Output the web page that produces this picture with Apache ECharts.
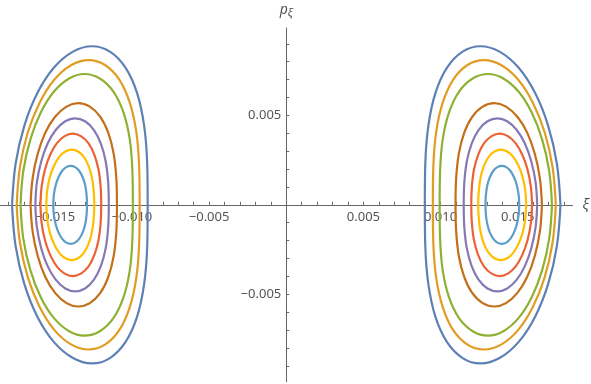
<!DOCTYPE html>
<html>
<head>
<meta charset="utf-8">
<script src="https://cdn.jsdelivr.net/npm/echarts/dist/echarts.min.js"></script>
<style>
html,body{margin:0;padding:0;background:#fff;}
#chart{width:591px;height:384px;}
</style>
</head>
<body>
<div id="chart"></div>
<script>
// Tick positions and labels
const xTickValues = [-0.018,-0.017,-0.016,-0.015,-0.014,-0.013,-0.012,-0.011,-0.010,-0.009,-0.008,-0.007,-0.006,-0.005,-0.004,-0.003,-0.002,-0.001,
  0.001,0.002,0.003,0.004,0.005,0.006,0.007,0.008,0.009,0.010,0.011,0.012,0.013,0.014,0.015,0.016,0.017,0.018];
const xLabelValues = [-0.015,-0.010,-0.005,0.005,0.010,0.015];
const yTickValues = [-0.009,-0.008,-0.007,-0.006,-0.005,-0.004,-0.003,-0.002,-0.001,
  0.001,0.002,0.003,0.004,0.005,0.006,0.007,0.008,0.009];
const yLabelValues = [-0.005,0.005];

// p_xi values around each closed curve (shared by the left and right copy)
const pBlue = [0,-0.00229,-0.00443,-0.00626,-0.00767,-0.00856,-0.00886,-0.00856,-0.00767,-0.00626,-0.00443,-0.00229,0,0.00229,0.00443,0.00626,0.00767,0.00856,0.00886,0.00856,0.00767,0.00626,0.00443,0.00229,0];
const pOrange = [0,-0.00209,-0.00404,-0.00571,-0.00700,-0.00781,-0.00808,-0.00781,-0.00700,-0.00571,-0.00404,-0.00209,0,0.00209,0.00404,0.00571,0.00700,0.00781,0.00808,0.00781,0.00700,0.00571,0.00404,0.00209,0];
const pGreen = [0,-0.00189,-0.00366,-0.00517,-0.00633,-0.00706,-0.00731,-0.00706,-0.00633,-0.00517,-0.00366,-0.00189,0,0.00189,0.00366,0.00517,0.00633,0.00706,0.00731,0.00706,0.00633,0.00517,0.00366,0.00189,0];
const pRed = [0,-0.00103,-0.00199,-0.00281,-0.00345,-0.00384,-0.00398,-0.00384,-0.00345,-0.00281,-0.00199,-0.00103,0,0.00103,0.00199,0.00281,0.00345,0.00384,0.00398,0.00384,0.00345,0.00281,0.00199,0.00103,0];
const pPurple = [0,-0.00125,-0.00242,-0.00341,-0.00418,-0.00467,-0.00483,-0.00467,-0.00418,-0.00341,-0.00242,-0.00125,0,0.00125,0.00242,0.00341,0.00418,0.00467,0.00483,0.00467,0.00418,0.00341,0.00242,0.00125,0];
const pBrown = [0,-0.00147,-0.00284,-0.00402,-0.00492,-0.00549,-0.00568,-0.00549,-0.00492,-0.00402,-0.00284,-0.00147,0,0.00147,0.00284,0.00402,0.00492,0.00549,0.00568,0.00549,0.00492,0.00402,0.00284,0.00147,0];
const pLightBlue = [0,-0.00056,-0.00109,-0.00154,-0.00189,-0.00211,-0.00218,-0.00211,-0.00189,-0.00154,-0.00109,-0.00056,0,0.00056,0.00109,0.00154,0.00189,0.00211,0.00218,0.00211,0.00189,0.00154,0.00109,0.00056,0];
const pYellow = [0,-0.00080,-0.00155,-0.00218,-0.00268,-0.00298,-0.00309,-0.00298,-0.00268,-0.00218,-0.00155,-0.00080,0,0.00080,0.00155,0.00218,0.00268,0.00298,0.00309,0.00298,0.00268,0.00218,0.00155,0.00080,0];

// xi values, right family (xi > 0)
const xiRightBlue = [0.01777,0.01754,0.01697,0.01612,0.01505,0.01382,0.01258,0.01143,0.01042,0.00967,0.00921,0.00901,0.00898,0.00901,0.00921,0.00967,0.01042,0.01143,0.01258,0.01382,0.01505,0.01612,0.01697,0.01754,0.01777];
const xiRightOrange = [0.01747,0.01726,0.01675,0.01598,0.01502,0.01392,0.01280,0.01175,0.01082,0.01014,0.00971,0.00953,0.00950,0.00953,0.00971,0.01014,0.01082,0.01175,0.01280,0.01392,0.01502,0.01598,0.01675,0.01726,0.01747];
const xiRightGreen = [0.01722,0.01704,0.01658,0.01590,0.01505,0.01407,0.01308,0.01208,0.01120,0.01055,0.01014,0.00997,0.00994,0.00997,0.01014,0.01055,0.01120,0.01208,0.01308,0.01407,0.01505,0.01590,0.01658,0.01704,0.01722];
const xiRightRed = [0.01593,0.01585,0.01563,0.01529,0.01486,0.01436,0.01384,0.01331,0.01282,0.01244,0.01217,0.01203,0.01199,0.01203,0.01217,0.01244,0.01282,0.01331,0.01384,0.01436,0.01486,0.01529,0.01563,0.01585,0.01593];
const xiRightPurple = [0.01626,0.01616,0.01588,0.01547,0.01494,0.01432,0.01369,0.01304,0.01246,0.01201,0.01170,0.01154,0.01150,0.01154,0.01170,0.01201,0.01246,0.01304,0.01369,0.01432,0.01494,0.01547,0.01588,0.01616,0.01626];
const xiRightBrown = [0.01657,0.01644,0.01611,0.01562,0.01498,0.01424,0.01349,0.01273,0.01205,0.01153,0.01118,0.01101,0.01097,0.01101,0.01118,0.01153,0.01205,0.01273,0.01349,0.01424,0.01498,0.01562,0.01611,0.01644,0.01657];
const xiRightLightBlue = [0.01510,0.01506,0.01494,0.01476,0.01453,0.01426,0.01397,0.01368,0.01341,0.01319,0.01303,0.01294,0.01291,0.01294,0.01303,0.01319,0.01341,0.01368,0.01397,0.01426,0.01453,0.01476,0.01494,0.01506,0.01510];
const xiRightYellow = [0.01555,0.01549,0.01532,0.01505,0.01471,0.01432,0.01391,0.01349,0.01312,0.01281,0.01260,0.01248,0.01244,0.01248,0.01260,0.01281,0.01312,0.01349,0.01391,0.01432,0.01471,0.01505,0.01532,0.01549,0.01555];

// xi values, left family (xi < 0)
const xiLeftBlue = [-0.01777,-0.01754,-0.01697,-0.01612,-0.01505,-0.01382,-0.01258,-0.01143,-0.01042,-0.00967,-0.00921,-0.00901,-0.00898,-0.00901,-0.00921,-0.00967,-0.01042,-0.01143,-0.01258,-0.01382,-0.01505,-0.01612,-0.01697,-0.01754,-0.01777];
const xiLeftOrange = [-0.01747,-0.01726,-0.01675,-0.01598,-0.01502,-0.01392,-0.01280,-0.01175,-0.01082,-0.01014,-0.00971,-0.00953,-0.00950,-0.00953,-0.00971,-0.01014,-0.01082,-0.01175,-0.01280,-0.01392,-0.01502,-0.01598,-0.01675,-0.01726,-0.01747];
const xiLeftGreen = [-0.01722,-0.01704,-0.01658,-0.01590,-0.01505,-0.01407,-0.01308,-0.01208,-0.01120,-0.01055,-0.01014,-0.00997,-0.00994,-0.00997,-0.01014,-0.01055,-0.01120,-0.01208,-0.01308,-0.01407,-0.01505,-0.01590,-0.01658,-0.01704,-0.01722];
const xiLeftRed = [-0.01593,-0.01585,-0.01563,-0.01529,-0.01486,-0.01436,-0.01384,-0.01331,-0.01282,-0.01244,-0.01217,-0.01203,-0.01199,-0.01203,-0.01217,-0.01244,-0.01282,-0.01331,-0.01384,-0.01436,-0.01486,-0.01529,-0.01563,-0.01585,-0.01593];
const xiLeftPurple = [-0.01626,-0.01616,-0.01588,-0.01547,-0.01494,-0.01432,-0.01369,-0.01304,-0.01246,-0.01201,-0.01170,-0.01154,-0.01150,-0.01154,-0.01170,-0.01201,-0.01246,-0.01304,-0.01369,-0.01432,-0.01494,-0.01547,-0.01588,-0.01616,-0.01626];
const xiLeftBrown = [-0.01657,-0.01644,-0.01611,-0.01562,-0.01498,-0.01424,-0.01349,-0.01273,-0.01205,-0.01153,-0.01118,-0.01101,-0.01097,-0.01101,-0.01118,-0.01153,-0.01205,-0.01273,-0.01349,-0.01424,-0.01498,-0.01562,-0.01611,-0.01644,-0.01657];
const xiLeftLightBlue = [-0.01510,-0.01506,-0.01494,-0.01476,-0.01453,-0.01426,-0.01397,-0.01368,-0.01341,-0.01319,-0.01303,-0.01294,-0.01291,-0.01294,-0.01303,-0.01319,-0.01341,-0.01368,-0.01397,-0.01426,-0.01453,-0.01476,-0.01494,-0.01506,-0.01510];
const xiLeftYellow = [-0.01555,-0.01549,-0.01532,-0.01505,-0.01471,-0.01432,-0.01391,-0.01349,-0.01312,-0.01281,-0.01260,-0.01248,-0.01244,-0.01248,-0.01260,-0.01281,-0.01312,-0.01349,-0.01391,-0.01432,-0.01471,-0.01505,-0.01532,-0.01549,-0.01555];

const curves = [
  { p: pBlue, xs: [xiLeftBlue, xiRightBlue] },
  { p: pOrange, xs: [xiLeftOrange, xiRightOrange] },
  { p: pGreen, xs: [xiLeftGreen, xiRightGreen] },
  { p: pRed, xs: [xiLeftRed, xiRightRed] },
  { p: pPurple, xs: [xiLeftPurple, xiRightPurple] },
  { p: pBrown, xs: [xiLeftBrown, xiRightBrown] },
  { p: pLightBlue, xs: [xiLeftLightBlue, xiRightLightBlue] },
  { p: pYellow, xs: [xiLeftYellow, xiRightYellow] }
];
const curveColors = ['#5E81B5','#E19C24','#8FB032','#EB6235','#8778B3','#C56E1A','#5D9EC7','#FFBF00'];

const series = [];
curves.forEach((c, i) => {
  c.xs.forEach(xs => {
    series.push({
      type: 'line', data: xs.map((x, k) => [x, c.p[k]]), showSymbol: false, symbol: 'none', smooth: 0.35,
      lineStyle: { color: curveColors[i], width: 2.2 }, silent: true
    });
  });
});

const axisColor = '#666666';
const labelColor = '#555555';
const fontFam = '"Noto Sans", "DejaVu Sans", sans-serif';
const fmt = v => (v < 0 ? '\u2212' : '') + Math.abs(v).toFixed(3);

const W = 591, H = 384;
const gridOpt = { left: 0, right: 18.5, top: 28, bottom: 2.3 };

const chart = echarts.init(document.getElementById('chart'), null, { renderer: 'canvas' });
chart.setOption({
  animation: false,
  backgroundColor: '#ffffff',
  grid: Object.assign({ containLabel: false, outerBoundsMode: 'none' }, gridOpt),
  xAxis: {
    type: 'value', min: -0.01855, max: 0.01855, position: 'bottom', offset: 0,
    axisLine: { onZero: false, lineStyle: { color: axisColor, width: 1 } },
    axisTick: { show: true, inside: true, length: 3, customValues: xTickValues, lineStyle: { color: axisColor, width: 1 } },
    axisLabel: { show: true, customValues: xLabelValues, formatter: v => fmt(v),
      color: labelColor, fontSize: 13, fontFamily: fontFam, margin: 6 },
    splitLine: { show: false },
    name: 'ξ', nameLocation: 'end', nameGap: 10,
    nameTextStyle: { fontStyle: 'italic', fontSize: 14, color: labelColor, fontFamily: fontFam }
  },
  yAxis: {
    type: 'value', min: -0.00988, max: 0.00988, position: 'left', offset: 0,
    axisLine: { onZero: false, lineStyle: { color: axisColor, width: 1 } },
    axisTick: { show: true, inside: true, length: 3, customValues: yTickValues, lineStyle: { color: axisColor, width: 1 } },
    axisLabel: { show: true, customValues: yLabelValues, formatter: v => fmt(v),
      color: labelColor, fontSize: 13, fontFamily: fontFam, margin: 5 },
    splitLine: { show: false },
    name: '{p|p}{s|ξ}', nameLocation: 'end', nameGap: 10,
    nameTextStyle: {
      color: labelColor, fontFamily: fontFam,
      rich: {
        p: { fontStyle: 'italic', fontSize: 14, color: labelColor, fontFamily: fontFam, lineHeight: 16 },
        s: { fontStyle: 'italic', fontSize: 11, color: labelColor, fontFamily: fontFam, lineHeight: 16, padding: [5, 0, 0, 0] }
      }
    }
  },
  series: series
});

// Move both axes (line, ticks, labels) onto the origin, like crossing axes.
const origin = chart.convertToPixel({ gridIndex: 0 }, [0, 0]);
const gridBottomY = H - gridOpt.bottom;
chart.setOption({
  xAxis: { offset: -(gridBottomY - origin[1]) },
  yAxis: { offset: -(origin[0] - gridOpt.left) }
});
</script>
</body>
</html>
